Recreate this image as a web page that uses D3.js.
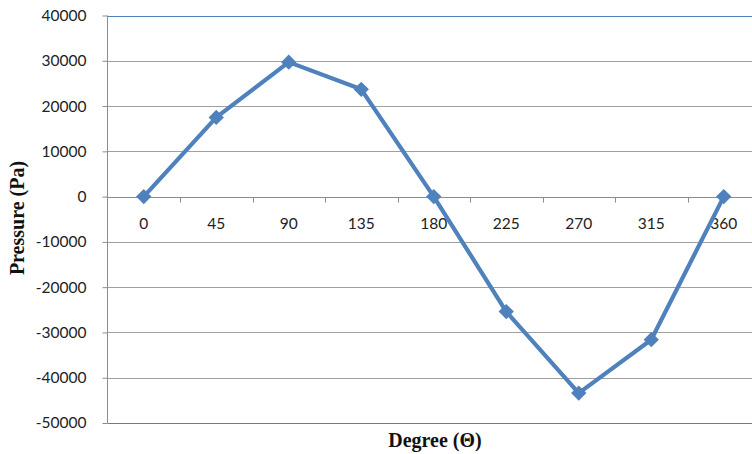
<!DOCTYPE html>
<html><head><meta charset="utf-8">
<script src="https://cdn.jsdelivr.net/npm/d3@7"></script>
<style>body{margin:0;background:#fff}svg{display:block}</style>
</head><body>
<svg id="c" width="752" height="454"></svg>
<script>
const categories = ["0","45","90","135","180","225","270","315","360"];
const pressure = [0, 17500, 29700, 23700, 0, -25400, -43400, -31600, 0];
const yTicks = [40000,30000,20000,10000,0,-10000,-20000,-30000,-40000,-50000];

const svg = d3.select("#c");
const pLeft = 107.5, pRight = 760, pTop = 15.5, pBottom = 423;
const x = d3.scaleBand().domain(categories).range([pLeft, pRight]);
const y = d3.scaleLinear().domain([-50000, 40000]).range([pBottom, pTop]);

// gridlines
svg.append("g").selectAll("line").data(yTicks.filter(t => t !== 40000 && t !== -50000 && t !== 0))
  .join("line").attr("x1", pLeft).attr("x2", pRight)
  .attr("y1", d => Math.round(y(d)) + 0.5).attr("y2", d => Math.round(y(d)) + 0.5)
  .attr("stroke", "#a0a0a0").attr("stroke-width", 1);
// top / bottom border lines (blue)
[40000, -50000].forEach(v => {
  svg.append("line").attr("x1", pLeft).attr("x2", pRight)
    .attr("y1", Math.round(y(v)) + 0.5).attr("y2", Math.round(y(v)) + 0.5)
    .attr("stroke", "#4f81bd").attr("stroke-width", 1);
});

// y axis
const yAxis = svg.append("g").attr("transform", `translate(${pLeft},0)`)
  .call(d3.axisLeft(y).tickValues(yTicks).tickSize(5).tickPadding(16).tickFormat(d => String(d)));
yAxis.select(".domain").attr("stroke", "#8c8c8c").attr("d", `M0,${pTop}V${pBottom}`);
yAxis.selectAll(".tick line").attr("stroke", "#8c8c8c");
yAxis.selectAll("text").attr("font-family", "Lato, 'Open Sans', sans-serif").attr("font-size", 15.5).attr("fill", "#222");

// x axis at y=0
const y0 = Math.round(y(0)) + 0.5;
const xg = svg.append("g").attr("transform", `translate(0,${y0})`);
xg.append("line").attr("x1", pLeft).attr("x2", pRight).attr("stroke", "#8c8c8c");
const bounds = categories.slice(1).map(c => x(c));
xg.selectAll("line.tk").data(bounds).join("line").attr("class", "tk")
  .attr("x1", d => Math.round(d) + 0.5).attr("x2", d => Math.round(d) + 0.5)
  .attr("y1", 0).attr("y2", 5).attr("stroke", "#8c8c8c");
xg.selectAll("text").data(categories).join("text")
  .attr("x", d => x(d) + x.bandwidth() / 2).attr("y", 31)
  .attr("text-anchor", "middle")
  .attr("font-family", "Lato, 'Open Sans', sans-serif").attr("font-size", 15.5).attr("fill", "#222")
  .text(d => d);

// line
const cx = (d, i) => x(categories[i]) + x.bandwidth() / 2;
const line = d3.line().x((d, i) => cx(d, i)).y(d => y(d));
svg.append("path").datum(pressure).attr("d", line)
  .attr("fill", "none").attr("stroke", "#4f81bd").attr("stroke-width", 4.2)
  .attr("stroke-linejoin", "round");
svg.append("g").selectAll("path").data(pressure).join("path")
  .attr("d", d3.symbol(d3.symbolDiamond2, 150))
  .attr("transform", (d, i) => `translate(${cx(d, i)},${y(d)})`)
  .attr("fill", "#4f81bd");

// titles
svg.append("text").attr("x", 435).attr("y", 447).attr("text-anchor", "middle")
  .attr("font-family", "'Liberation Serif', 'Times New Roman', serif").attr("font-weight", "bold")
  .attr("font-size", 20).attr("fill", "#111").text("Degree (Θ)");
svg.append("text").attr("transform", "translate(24,218) rotate(-90)").attr("text-anchor", "middle")
  .attr("font-family", "'Liberation Serif', 'Times New Roman', serif").attr("font-weight", "bold")
  .attr("font-size", 20).attr("fill", "#111").text("Pressure (Pa)");
</script>
</body></html>
